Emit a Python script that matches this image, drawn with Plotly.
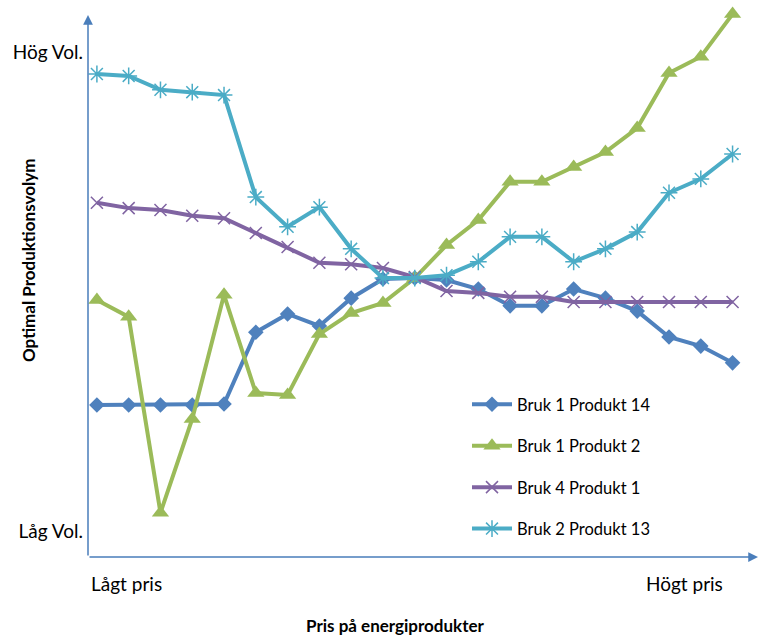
import plotly.graph_objects as go

price_steps = list(range(21))
bruk1_p14 = [26.3, 26.3, 26.3, 26.3, 26.5, 41.5, 45.3, 42.8, 48.6, 52.6, 52.8,
             52.4, 50.5, 47.0, 47.0, 50.5, 48.6, 45.9, 40.5, 38.6, 35.1]
bruk1_p2 = [48.2, 44.7, 3.8, 23.4, 49.3, 28.8, 28.4, 41.1, 45.5, 47.6, 52.8,
            59.7, 64.9, 72.9, 72.9, 76.0, 79.1, 84.1, 95.6, 99.0, 107.9]
bruk4_p1 = [68.5, 67.4, 67.0, 65.8, 65.3, 62.2, 59.3, 56.0, 55.7, 54.9, 53.0,
            50.1, 49.7, 48.9, 48.9, 47.8, 47.8, 47.8, 47.8, 47.8, 47.8]
bruk2_p13 = [95.4, 95.0, 92.1, 91.6, 91.0, 69.7, 63.5, 67.6, 58.9, 52.8, 52.8,
             53.4, 56.2, 61.4, 61.4, 56.2, 58.9, 62.4, 70.6, 73.5, 78.7]
series_names = ["Bruk 1 Produkt 14", "Bruk 1 Produkt 2", "Bruk 4 Produkt 1", "Bruk 2 Produkt 13"]
y_tick_vals = [0, 100]
y_tick_text = ["Låg Vol.", "Hög Vol."]
x_end_labels = ["Lågt pris", "Högt pris"]

FONT = "Lato"
colors = ["#4F81BD", "#9BBB59", "#8064A2", "#4BACC6"]
symbols = ["diamond", "triangle-up", "x-thin-open", "asterisk-open"]
sizes = [12, 15, 12, 14]
data = [bruk1_p14, bruk1_p2, bruk4_p1, bruk2_p13]

fig = go.Figure()
for i, (name, vals) in enumerate(zip(series_names, data)):
    mk = dict(symbol=symbols[i], size=sizes[i], color=colors[i])
    if "open" in symbols[i]:
        mk["line"] = dict(color=colors[i], width=1.5)
    fig.add_trace(go.Scatter(
        x=price_steps, y=vals, name=name, mode="lines+markers",
        line=dict(color=colors[i], width=4),
        marker=mk, cliponaxis=False, legendgroup=name,
    ))

XMIN, XMAX = -0.28, 20.8
YMIN, YMAX = -5.43, 109.8
YTOP_ARROW = 107.7
axis_color = "#4A7EBB"

L, R, T, B = 88, 3, 5, 78
W, H = 761, 635


def px(xp):
    return (xp - L) / (W - L - R)


def py(yp):
    return (H - B - yp) / (H - B - T)


fig.update_layout(
    width=W, height=H,
    margin=dict(l=L, r=R, t=T, b=B),
    paper_bgcolor="white", plot_bgcolor="white",
    font=dict(family=FONT, size=16, color="#000000"),
    xaxis=dict(range=[XMIN, XMAX], showgrid=False, zeroline=False,
               showline=False, showticklabels=False, ticks=""),
    yaxis=dict(range=[YMIN, YMAX], showgrid=False, zeroline=False,
               showline=False, tickvals=y_tick_vals, ticktext=y_tick_text,
               ticks="", ticklabelstandoff=4, automargin=False,
               tickfont=dict(family=FONT, size=19)),
    showlegend=True,
    legend=dict(x=px(467), y=py(387), xanchor="left", yanchor="top",
                font=dict(family=FONT, size=16.5), tracegroupgap=17,
                bgcolor="rgba(0,0,0,0)", itemwidth=40),
)

# axis lines with arrowheads
fig.add_annotation(x=XMAX, y=YMIN, ax=XMIN, ay=YMIN, xref="x", yref="y",
                   axref="x", ayref="y", showarrow=True, arrowhead=2,
                   arrowsize=1.3, arrowwidth=1.5, arrowcolor=axis_color, text="")
fig.add_annotation(x=XMIN, y=YTOP_ARROW, ax=XMIN, ay=YMIN, xref="x", yref="y",
                   axref="x", ayref="y", showarrow=True, arrowhead=2,
                   arrowsize=1.3, arrowwidth=1.5, arrowcolor=axis_color, text="")

# end labels on x axis
fig.add_annotation(x=px(126), y=py(583), xref="paper", yref="paper",
                   xanchor="center", yanchor="middle", text=x_end_labels[0],
                   showarrow=False, font=dict(size=19))
fig.add_annotation(x=px(684), y=py(583), xref="paper", yref="paper",
                   xanchor="center", yanchor="middle", text=x_end_labels[1],
                   showarrow=False, font=dict(size=19))

fig.add_annotation(x=px(395), y=py(625), xref="paper", yref="paper",
                   xanchor="center", yanchor="middle",
                   text="<b>Pris på energiprodukter</b>", showarrow=False,
                   font=dict(size=17))
fig.add_annotation(x=px(28), y=py(261), xref="paper", yref="paper",
                   xanchor="center", yanchor="middle",
                   text="<b>Optimal Produktionsvolym</b>", showarrow=False,
                   textangle=-90, font=dict(size=17))

fig.write_html("out.html", config={"displayModeBar": False},
               post_script="document.body.style.margin='0px';")
